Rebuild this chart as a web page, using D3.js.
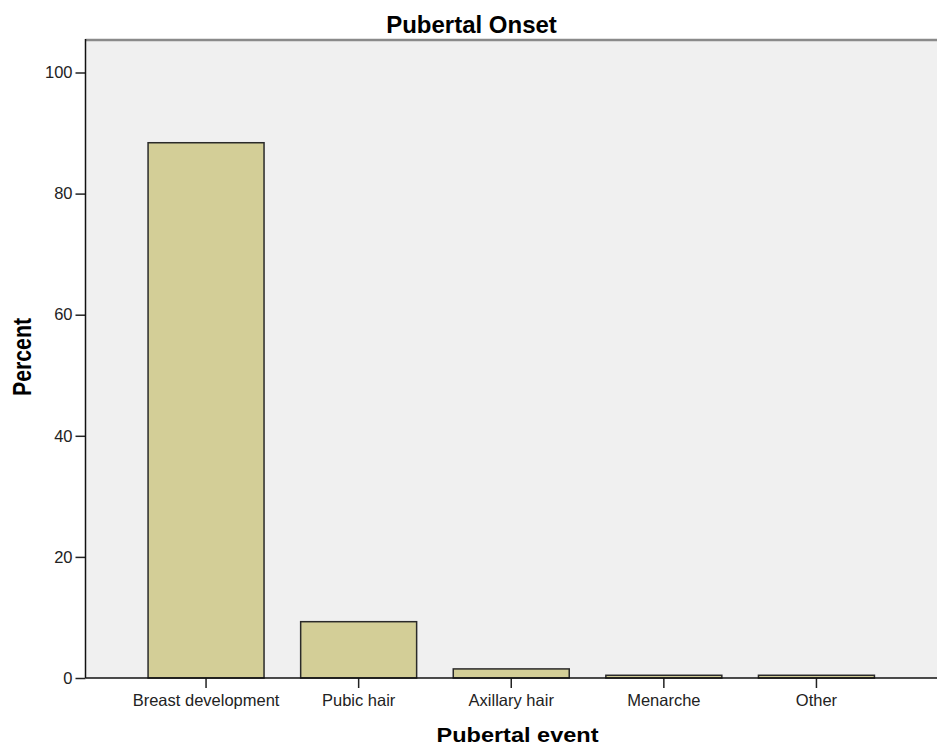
<!DOCTYPE html>
<html>
<head>
<meta charset="utf-8">
<script src="https://cdn.jsdelivr.net/npm/d3@7/dist/d3.min.js"></script>
<style>
  html, body { margin: 0; padding: 0; background: #fff; }
  svg { display: block; font-family: Arial, "Liberation Sans", sans-serif; }
</style>
</head>
<body>
<script>
const categories = ["Breast development", "Pubic hair", "Axillary hair", "Menarche", "Other"];
const percents = [88.4, 9.3, 1.5, 0.45, 0.45];
const yTicks = [0, 20, 40, 60, 80, 100];
const chartTitle = "Pubertal Onset";
const xTitle = "Pubertal event";
const yTitle = "Percent";

const W = 937, H = 746;
const plotLeft = 85.5, plotRight = 937, plotTop = 40, plotBottom = 678;

const svg = d3.select("body").append("svg").attr("width", W).attr("height", H);

const y = d3.scaleLinear().domain([0, 100]).range([plotBottom, 72.5]);
const x = d3.scaleBand().domain(categories).range([plotLeft, plotRight])
  .paddingInner(0.24).paddingOuter(0.41);

// plot background
svg.append("rect").attr("x", plotLeft).attr("y", plotTop)
  .attr("width", plotRight - plotLeft + 5).attr("height", plotBottom - plotTop)
  .attr("fill", "#f0f0f0");

// top border
svg.append("line").attr("x1", plotLeft).attr("x2", W + 2).attr("y1", plotTop).attr("y2", plotTop)
  .attr("stroke", "#8a8a8a").attr("stroke-width", 2.5);

// bars
svg.selectAll("rect.bar").data(categories).enter().append("rect")
  .attr("class", "bar")
  .attr("x", d => x(d))
  .attr("width", x.bandwidth())
  .attr("y", (d, i) => y(percents[i]))
  .attr("height", (d, i) => y(0) - y(percents[i]))
  .attr("fill", "#d3ce97")
  .attr("stroke", "#2a2a2a")
  .attr("stroke-width", 1.5);

// y axis
const yAxis = d3.axisLeft(y).tickValues(yTicks).tickSize(10).tickPadding(3).tickFormat(d3.format("d"));
const gy = svg.append("g").attr("transform", `translate(${plotLeft},0)`).call(yAxis);
gy.select(".domain").remove();
gy.selectAll(".tick line").attr("stroke", "#222").attr("stroke-width", 1.5);
gy.selectAll(".tick text").attr("font-size", "16.5px").attr("fill", "#222")
  .attr("font-family", "Arial, 'Liberation Sans', sans-serif");
svg.append("line").attr("x1", plotLeft).attr("x2", plotLeft).attr("y1", plotTop - 1).attr("y2", plotBottom)
  .attr("stroke", "#111").attr("stroke-width", 1.5);

// x axis
const xAxis = d3.axisBottom(x).tickSize(10).tickPadding(6);
const gx = svg.append("g").attr("transform", `translate(0,${plotBottom})`).call(xAxis);
gx.select(".domain").remove();
gx.selectAll(".tick line").attr("stroke", "#222").attr("stroke-width", 1.5);
gx.selectAll(".tick text").attr("font-size", "16.5px").attr("fill", "#222")
  .attr("font-family", "Arial, 'Liberation Sans', sans-serif");
svg.append("line").attr("x1", plotLeft).attr("x2", W + 2).attr("y1", plotBottom).attr("y2", plotBottom)
  .attr("stroke", "#111").attr("stroke-width", 1.5);

// titles
svg.append("text").attr("x", 471.5).attr("y", 33)
  .attr("text-anchor", "middle").attr("font-weight", "bold").attr("font-size", "24px")
  .attr("fill", "#000").text(chartTitle);

svg.append("text").attr("x", 517.5).attr("y", 742)
  .attr("text-anchor", "middle").attr("font-weight", "bold").attr("font-size", "21px")
  .attr("textLength", 162).attr("lengthAdjust", "spacingAndGlyphs")
  .attr("fill", "#000").text(xTitle);

svg.append("text").attr("transform", "translate(31,357) rotate(-90)")
  .attr("text-anchor", "middle").attr("font-weight", "bold").attr("font-size", "26px")
  .attr("textLength", 78).attr("lengthAdjust", "spacingAndGlyphs")
  .attr("fill", "#000").text(yTitle);
</script>
</body>
</html>
